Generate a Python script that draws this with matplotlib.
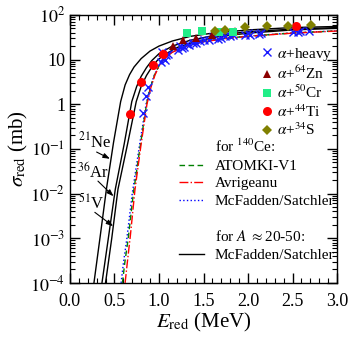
import matplotlib
matplotlib.use("Agg")
import matplotlib.pyplot as plt
from matplotlib.lines import Line2D
from matplotlib.ticker import FixedLocator, MultipleLocator, LogLocator, NullFormatter

plt.rcParams['font.family'] = ['Liberation Serif', 'DejaVu Serif']
plt.rcParams['mathtext.fontset'] = 'stix'

# reduced excitation functions, for A ~ 20-50 (McFadden/Satchler)
E_ne = [0.27, 0.34, 0.41, 0.49, 0.57, 0.62, 0.67, 0.72, 0.80, 0.90, 1.00, 1.15, 1.35, 1.60, 2.00, 2.50, 3.00]
s_ne = [1e-4, 1.1e-3, 1.26e-2, 0.14, 1.15, 2.7, 4.6, 6.8, 10.5, 15.5, 20, 26, 33, 39, 46, 52, 55]
E_ar = [0.36, 0.43, 0.51, 0.61, 0.695, 0.75, 0.80, 0.86, 0.92, 1.00, 1.15, 1.35, 1.60, 2.00, 2.50, 3.00]
s_ar = [1e-4, 9.5e-4, 1.26e-2, 0.13, 1.15, 2.5, 4.2, 6.6, 9.5, 13.5, 20, 27, 34, 42, 48, 52]
E_v = [0.40, 0.47, 0.54, 0.648, 0.745, 0.80, 0.86, 0.92, 0.98, 1.05, 1.20, 1.40, 1.65, 2.00, 2.50, 3.00]
s_v = [1e-4, 1e-3, 1.26e-2, 0.13, 1.15, 2.5, 4.4, 6.8, 9.5, 12.5, 18.5, 25, 32, 39, 46, 50]

# for 140Ce
E_mcf = [0.575, 0.60, 0.64, 0.70, 0.775, 0.855, 0.90, 0.95, 1.01, 1.08, 1.14, 1.29, 1.50, 1.75, 2.00, 2.50, 3.00]
s_mcf = [1e-4, 2.7e-4, 1e-3, 1e-2, 0.1, 1.0, 2.4, 4.6, 8.0, 11.5, 14.5, 20, 25.5, 30, 33.5, 39.5, 44]
E_atomki = [0.59, 0.615, 0.655, 0.712, 0.785, 0.86, 0.905, 0.95, 1.01, 1.08, 1.14, 1.29, 1.50, 1.75, 2.00, 2.50, 3.00]
s_atomki = [1e-4, 2.7e-4, 1e-3, 1e-2, 0.1, 1.0, 2.4, 4.5, 7.9, 11.4, 14.3, 19.8, 25.3, 29.8, 33.3, 39.3, 43.8]
E_avr = [0.62, 0.645, 0.68, 0.73, 0.795, 0.865, 0.91, 0.955, 1.01, 1.08, 1.14, 1.29, 1.50, 1.75, 2.00, 2.50, 3.00]
s_avr = [1e-4, 2.9e-4, 1.2e-3, 1.2e-2, 0.11, 1.0, 2.4, 4.5, 7.8, 11.2, 14.2, 19.6, 25, 29.5, 33, 39, 43.5]

# experimental data
heavy_E = [0.82, 0.85, 0.88, 1.02, 1.03, 1.05, 1.07, 1.08, 1.10, 1.21, 1.24, 1.26, 1.28, 1.31, 1.34, 1.38,
           1.42, 1.46, 1.50, 1.56, 1.61, 1.66, 1.70, 1.74, 1.80, 1.83, 1.97, 2.00, 2.02, 2.12, 2.15, 2.50,
           2.53, 2.56, 2.58, 2.68]
heavy_s = [0.65, 1.55, 2.4, 8.7, 14.5, 11, 9.6, 12.5, 13, 16, 20.5, 18, 19, 22.4, 21, 24,
           23, 26, 27, 27, 31.6, 29, 30, 33, 34, 36, 36, 40, 35, 37, 39, 42,
           45, 41, 44, 44]
zn_E = [1.05, 1.16, 1.27, 1.42, 1.59, 1.85]
zn_s = [14, 20.5, 27, 31, 35, 44]
cr_E = [1.31, 1.48, 1.67, 1.83]
cr_s = [39.5, 44.6, 41, 42]
ti_E = [0.674, 0.794, 0.936, 1.05, 2.535]
ti_s = [0.6, 3.1, 7.5, 13.5, 57]
s34_E = [1.63, 1.74, 1.97, 2.21, 2.45, 2.71]
s34_s = [44, 46, 53, 57, 56, 58]

y_ticks = [1e-4, 1e-3, 1e-2, 1e-1, 1, 10, 100]
y_labels = ['$10^{-4}$', '$10^{-3}$', '$10^{-2}$', '$10^{-1}$', '1', '10', '$10^{2}$']

fig = plt.figure(figsize=(3.53, 3.38), dpi=100)
ax = fig.add_axes([0.198, 0.163, 0.757, 0.793])

ax.plot(E_ne, s_ne, color='black', lw=1.0)
ax.plot(E_ar, s_ar, color='black', lw=1.0)
ax.plot(E_v, s_v, color='black', lw=1.0)
ax.plot(E_mcf, s_mcf, color='blue', lw=1.0, ls=':')
ax.plot(E_atomki, s_atomki, color='green', lw=1.0, ls='--', dashes=(4, 2.5))
ax.plot(E_avr, s_avr, color='red', lw=1.0, ls='-.')

ax.plot(heavy_E, heavy_s, 'x', color='#1a1aff', ms=5.5, mew=1.0)
ax.plot(zn_E, zn_s, '^', color='#8b0000', ms=6, mew=0)
ax.plot(cr_E, cr_s, 's', color='#22ee88', ms=6, mew=0)
ax.plot(ti_E, ti_s, 'o', color='red', ms=6.5, mew=0)
ax.plot(s34_E, s34_s, 'D', color='#808000', ms=5, mew=0)

ax.set_yscale('log')
ax.set_xlim(0, 3.0)
ax.set_ylim(1e-4, 100)
ax.yaxis.set_major_locator(FixedLocator(y_ticks))
ax.set_yticklabels(y_labels)
ax.yaxis.set_minor_locator(LogLocator(base=10, subs=range(2, 10), numticks=20))
ax.yaxis.set_minor_formatter(NullFormatter())
ax.xaxis.set_major_locator(MultipleLocator(0.5))
ax.xaxis.set_minor_locator(MultipleLocator(0.1))
ax.xaxis.set_major_formatter(plt.FuncFormatter(lambda v, p: f'{v:.1f}'))
ax.tick_params(which='both', direction='in', top=True, right=True, labelsize=13)
ax.tick_params(which='major', length=7, width=1)
ax.tick_params(which='minor', length=3.5, width=0.8)
ax.tick_params(axis='x', which='major', pad=7)
for sp in ax.spines.values():
    sp.set_linewidth(1.0)

ax.set_xlabel(r'$E_{\rm red}$ (MeV)', fontsize=15, labelpad=1)
ax.set_ylabel(r'$\sigma_{\rm red}$ (mb)', fontsize=15, labelpad=0)

# labels of the black curves
arr = dict(arrowstyle='-|>,head_length=0.5,head_width=0.18', color='black', lw=0.8,
           shrinkA=0, shrinkB=0, mutation_scale=8)
ax.text(0.09, 0.11, '$^{21}$Ne', fontsize=12)
ax.annotate('', xy=(0.45, 0.06), xytext=(0.30, 0.085), arrowprops=arr)
ax.text(0.08, 0.023, '$^{36}$Ar', fontsize=12)
ax.annotate('', xy=(0.49, 8.7e-3), xytext=(0.315, 0.019), arrowprops=arr)
ax.text(0.09, 4.5e-3, '$^{51}$V', fontsize=12)
ax.annotate('', xy=(0.485, 1.86e-3), xytext=(0.28, 3.8e-3), arrowprops=arr)

# legends
h1 = [Line2D([], [], ls='none', marker='x', color='#1a1aff', ms=5.5, mew=1.0),
      Line2D([], [], ls='none', marker='^', color='#8b0000', ms=6, mew=0),
      Line2D([], [], ls='none', marker='s', color='#22ee88', ms=6, mew=0),
      Line2D([], [], ls='none', marker='o', color='red', ms=6.5, mew=0),
      Line2D([], [], ls='none', marker='D', color='#808000', ms=5, mew=0)]
l1 = [r'$\alpha$+heavy', r'$\alpha$+$^{64}$Zn', r'$\alpha$+$^{50}$Cr', r'$\alpha$+$^{44}$Ti', r'$\alpha$+$^{34}$S']
leg1 = ax.legend(h1, l1, loc='upper left', bbox_to_anchor=(0.715, 0.885), frameon=False,
                 fontsize=11, handlelength=0.8, handletextpad=0.25, labelspacing=0.12,
                 borderpad=0, borderaxespad=0)
ax.add_artist(leg1)

blank = Line2D([], [], ls='none')
h2 = [blank,
      Line2D([], [], color='green', lw=1.0, ls='--', dashes=(4, 2.5)),
      Line2D([], [], color='red', lw=1.0, ls='-.'),
      Line2D([], [], color='blue', lw=1.0, ls=':'),
      blank, blank,
      Line2D([], [], color='black', lw=1.0)]
l2 = ['for $^{140}$Ce:', 'ATOMKI-V1', 'Avrigeanu', 'McFadden/Satchler', ' ',
      r'for $A$ $\approx$20-50:', 'McFadden/Satchler']
ax.legend(h2, l2, loc='upper left', bbox_to_anchor=(0.41, 0.54), frameon=False,
          fontsize=11, handlelength=1.6, handletextpad=0.7, labelspacing=0.25,
          borderpad=0, borderaxespad=0)

fig.savefig('out.png', dpi=100)
